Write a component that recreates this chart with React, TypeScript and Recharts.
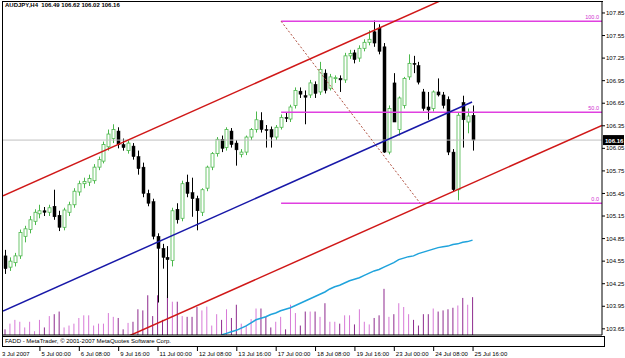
import { ComposedChart, Bar, Line, XAxis, YAxis, ReferenceLine } from 'recharts'

// AUDJPY H4, 3 Jul 2007 20:00 .. 25 Jul 16:00
const opens = [104.62,104.47,104.53,104.62,104.88,104.97,105.08,105.18,105.22,105.20,
  105.28,105.16,105.00,105.20,105.30,105.47,105.58,105.60,105.62,105.80,
  105.88,106.07,106.18,106.28,106.10,106.02,106.08,105.94,105.80,105.45,
  105.34,104.88,104.72,104.60,104.56,105.24,105.12,105.60,105.46,105.38,
  105.20,105.52,105.80,105.98,106.17,106.06,106.28,106.12,105.97,106.00,
  106.20,106.30,106.42,106.30,106.30,106.20,106.33,106.46,106.44,106.62,
  106.81,106.75,106.76,106.90,106.80,107.05,106.85,106.98,106.98,106.96,
  107.28,107.32,107.25,107.38,107.46,107.60,107.65,107.40,106.00,106.92,
  106.30,106.62,107.00,107.18,107.15,106.80,106.60,106.58,106.80,106.76,
  106.70,106.00,105.50,106.66,106.40,106.49]
const highs = [104.70,104.60,104.66,104.97,105.02,105.15,105.24,105.30,105.27,105.30,
  105.50,105.22,105.26,105.34,105.52,105.62,105.66,105.70,105.84,105.94,
  106.14,106.30,106.37,106.33,106.18,106.16,106.12,106.02,105.86,105.50,
  105.38,104.92,104.78,104.75,105.26,105.32,105.62,105.70,105.66,105.42,
  105.52,105.82,106.00,106.20,106.22,106.33,106.32,106.16,106.04,106.22,
  106.32,106.54,106.53,106.36,106.34,106.36,106.50,106.52,106.63,106.86,
  106.86,106.82,106.96,106.94,107.20,107.10,107.04,107.02,107.02,107.32,
  107.36,107.36,107.42,107.50,107.62,107.75,107.70,107.45,106.62,107.05,
  106.74,107.00,107.30,107.28,107.20,106.84,106.80,106.82,106.98,106.80,
  106.74,106.04,106.52,106.75,106.58,106.62]
const lows = [104.38,104.42,104.48,104.58,104.80,104.92,105.03,105.12,105.15,105.15,
  105.10,104.95,104.96,105.15,105.26,105.42,105.52,105.55,105.58,105.76,
  105.85,106.02,106.12,106.05,106.02,105.98,105.90,105.70,105.40,105.28,
  104.84,104.00,104.45,104.06,104.48,105.05,105.08,105.40,105.14,104.96,
  105.15,105.48,105.76,105.94,106.00,106.02,106.06,105.82,105.93,105.96,
  106.16,106.26,106.26,106.06,106.06,106.16,106.30,106.40,106.40,106.58,
  106.72,106.37,106.72,106.72,106.76,106.78,106.82,106.92,106.80,106.92,
  107.24,107.18,107.20,107.34,107.42,107.40,107.30,105.99,105.97,106.40,
  106.22,106.58,106.96,107.05,106.90,106.55,106.43,106.54,106.74,106.58,
  105.96,105.48,105.36,106.06,106.25,106.02]
const closes = [104.45,104.55,104.62,104.93,104.98,105.10,105.20,105.22,105.20,105.26,
  105.14,105.00,105.23,105.30,105.48,105.58,105.61,105.65,105.80,105.90,
  106.10,106.24,106.30,106.10,106.06,106.12,105.94,105.78,105.45,105.32,
  104.88,104.72,104.60,104.57,105.22,105.10,105.58,105.45,105.38,105.22,
  105.50,105.80,105.98,106.17,106.05,106.30,106.10,106.03,106.00,106.20,
  106.30,106.43,106.30,106.29,106.20,106.33,106.46,106.45,106.60,106.82,
  106.77,106.73,106.92,106.78,107.10,106.82,107.00,106.99,106.96,107.28,
  107.31,107.23,107.38,107.46,107.50,107.45,107.34,106.00,106.58,106.40,
  106.72,106.98,107.18,107.17,106.93,106.58,106.56,106.80,106.76,106.62,
  106.00,105.50,106.49,106.43,106.48,106.16]
const volumes = [15,30,40,35,20,35,10,40,20,50,
  55,62,20,25,30,45,52,52,25,30,
  30,58,48,45,15,32,35,68,65,105,
  50,105,40,105,88,88,50,48,48,74,
  65,75,25,55,40,68,45,80,30,25,
  42,70,70,48,20,35,48,15,80,58,
  25,62,62,62,48,84,35,35,30,52,
  52,28,68,35,28,45,52,122,48,55,
  84,74,55,40,25,55,55,70,62,65,
  68,72,78,98,80,100]
// moving average, visible from bar 44
const maStart = 44
const maValues = [103.57,103.59,103.61,103.63,103.66,103.69,103.73,103.77,103.79,103.81,
  103.84,103.86,103.89,103.91,103.93,103.96,103.99,104.02,104.05,104.08,
  104.11,104.14,104.18,104.21,104.23,104.26,104.29,104.31,104.33,104.36,
  104.39,104.42,104.44,104.47,104.50,104.53,104.57,104.59,104.61,104.62,
  104.65,104.67,104.69,104.71,104.73,104.74,104.75,104.77,104.78,104.80,
  104.81,104.83]

const dateTicks = [0,7,15,23,31,39,47,55,63,71,79,87,95]
const dateLabels = ['3 Jul 2007','5 Jul 00:00','6 Jul 08:00','9 Jul 16:00','11 Jul 00:00','12 Jul 08:00',
  '13 Jul 16:00','17 Jul 00:00','18 Jul 08:00','19 Jul 16:00','23 Jul 00:00','24 Jul 08:00','25 Jul 16:00']
const priceTicks = [103.65,103.95,104.25,104.55,104.85,105.15,105.45,105.75,106.05,106.35,106.65,106.95,107.25,107.55,107.85]

const fibStart = 56.1
const fibEnd = 121.3
const fibHigh = 107.74
const fibLow = 105.32
const bid = 106.16

const data = opens.map((o, i) => ({
  i, o, h: highs[i], l: lows[i], c: closes[i],
  range: [lows[i], highs[i]],
  vol: volumes[i],
  ma: i >= maStart ? maValues[i - maStart] : null,
}))

const FONT = '"Liberation Sans", Arial, sans-serif'
const GREEN = '#4cb84c'

function Candle(props: any) {
  const { x, y, width, height, payload } = props
  if (!payload || !isFinite(y) || !isFinite(height)) return null
  const { o, h, l, c } = payload
  const k = height / (h - l)
  const cx = Math.round(x + width / 2) + 0.5
  const yo = y + (h - o) * k
  const yc = y + (h - c) * k
  const up = c >= o
  const col = up ? GREEN : '#000'
  const top = Math.min(yo, yc)
  const bh = Math.max(1, Math.abs(yc - yo))
  return (
    <g>
      <line x1={cx} x2={cx} y1={y} y2={y + height} stroke={col} strokeWidth={1} />
      <rect x={cx - 1.5} y={top} width={3} height={bh} fill={up ? '#fff' : '#000'} stroke={col} strokeWidth={up ? 0.8 : 0.5} />
    </g>
  )
}

function VolBar(props: any) {
  const { x, y, width, height, payload } = props
  if (!payload || !isFinite(y)) return null
  const down = payload.c < payload.o
  return <rect x={x} y={y} width={width} height={height} fill={down ? '#8e2b8e' : '#d77ad7'} />
}

function DateTick(props: any) {
  const { x, payload } = props
  const idx = dateTicks.indexOf(payload.value)
  const tx = payload.value === 0 ? 2 : x + 2
  return (
    <g>
      {payload.value !== 0 && <line x1={x + 0.5} x2={x + 0.5} y1={347} y2={351} stroke="#000" />}
      <text x={tx} y={356} fontSize={6} fontFamily={FONT} fill="#000">{dateLabels[idx]}</text>
    </g>
  )
}

function FibLabel(props: any) {
  const vb = props.viewBox || {}
  const x2 = vb.x2 !== undefined ? vb.x2 : vb.x + vb.width
  const y = vb.y1 !== undefined ? vb.y1 : vb.y
  return <text x={x2 - 3} y={y - 2} textAnchor="end" fontSize={5.5} fontFamily={FONT} fill="#d030d0">{props.text}</text>
}

function BidLabel(props: any) {
  const vb = props.viewBox || {}
  const x2 = vb.x2 !== undefined ? vb.x2 : vb.x + vb.width
  const y = vb.y1 !== undefined ? vb.y1 : vb.y
  return (
    <g>
      <rect x={x2 + 1} y={y - 5} width={21} height={10} fill="#000" />
      <text x={x2 + 3} y={y + 2.5} fontSize={6} fontWeight="bold" fontFamily={FONT} fill="#fff">{bid.toFixed(2)}</text>
    </g>
  )
}

export default function App() {
  return (
    <div style={{ position: 'absolute', left: 0, top: 0, width: 625, height: 358, background: '#fff', overflow: 'hidden' }}>
      <ComposedChart width={625} height={358} data={data} margin={{ top: 2, right: 0, bottom: 0, left: 3 }}>
        <XAxis dataKey="i" type="number" domain={[-0.4, 121.3]} allowDataOverflow ticks={dateTicks} interval={0}
          height={23} axisLine={{ stroke: '#000' }} tickLine={false} tick={<DateTick />} />
        <XAxis xAxisId="v" dataKey="i" type="number" domain={[-0.4, 121.3]} allowDataOverflow hide />
        <YAxis orientation="right" width={23} domain={[103.568, 107.996]} allowDataOverflow ticks={priceTicks} interval={0}
          tickFormatter={(v: number) => v.toFixed(2)} tickSize={3} tickMargin={1}
          axisLine={{ stroke: '#000' }} tickLine={{ stroke: '#000' }}
          tick={{ fontSize: 6, fontFamily: FONT, fill: '#000', textAnchor: 'start' }} />
        <YAxis yAxisId="v" domain={[0, 880]} hide />

        <Bar xAxisId="v" yAxisId="v" dataKey="vol" barSize={1} shape={<VolBar />} isAnimationActive={false} />

        <ReferenceLine y={bid} stroke="#c0c0c0" strokeWidth={1} label={<BidLabel />} />

        <ReferenceLine segment={[{ x: fibStart, y: fibHigh }, { x: fibEnd, y: fibHigh }]} stroke="#e040e0" strokeWidth={1.5} label={<FibLabel text="100.0" />} />
        <ReferenceLine segment={[{ x: fibStart, y: (fibHigh + fibLow) / 2 }, { x: fibEnd, y: (fibHigh + fibLow) / 2 }]} stroke="#e040e0" strokeWidth={1.5} label={<FibLabel text="50.0" />} />
        <ReferenceLine segment={[{ x: fibStart, y: fibLow }, { x: fibEnd, y: fibLow }]} stroke="#e040e0" strokeWidth={1.5} label={<FibLabel text="0.0" />} />
        <ReferenceLine segment={[{ x: fibStart, y: fibHigh }, { x: 84.35, y: fibLow }]} stroke="#b05040" strokeWidth={1} strokeDasharray="2 2" />

        <Line dataKey="ma" stroke="#1fa3dc" strokeWidth={1.5} dot={false} activeDot={false} connectNulls={false} isAnimationActive={false} />

        <Bar dataKey="range" barSize={3} shape={<Candle />} isAnimationActive={false} />

        <ReferenceLine ifOverflow="hidden" segment={[{ x: -0.4, y: 105.42 }, { x: 121.3, y: 108.97 }]} stroke="#d01818" strokeWidth={1.5} />
        <ReferenceLine ifOverflow="hidden" segment={[{ x: -0.4, y: 103.887 }, { x: 94.9, y: 106.667 }]} stroke="#1818a8" strokeWidth={1.5} />
        <ReferenceLine ifOverflow="hidden" segment={[{ x: -0.4, y: 102.81 }, { x: 121.3, y: 106.356 }]} stroke="#d01818" strokeWidth={1.5} />
      </ComposedChart>

      <div style={{ position: 'absolute', left: 2, top: 1, width: 600, height: 334, borderTop: '1px solid #000', borderLeft: '1px solid #000', pointerEvents: 'none' }} />
      <div style={{ position: 'absolute', left: 5, top: 2, fontFamily: FONT, fontSize: 6, fontWeight: 'bold', whiteSpace: 'pre', color: '#000' }}>
        AUDJPY,H4  106.49 106.62 106.02 106.16
      </div>
      <div style={{ position: 'absolute', left: 2, top: 336, width: 599, height: 9, border: '1px solid #000', fontFamily: FONT, fontSize: 6, lineHeight: '9px', paddingLeft: 2, boxSizing: 'content-box', whiteSpace: 'pre' }}>
        FADD - MetaTrader, © 2001-2007 MetaQuotes Software Corp.
      </div>
    </div>
  )
}
